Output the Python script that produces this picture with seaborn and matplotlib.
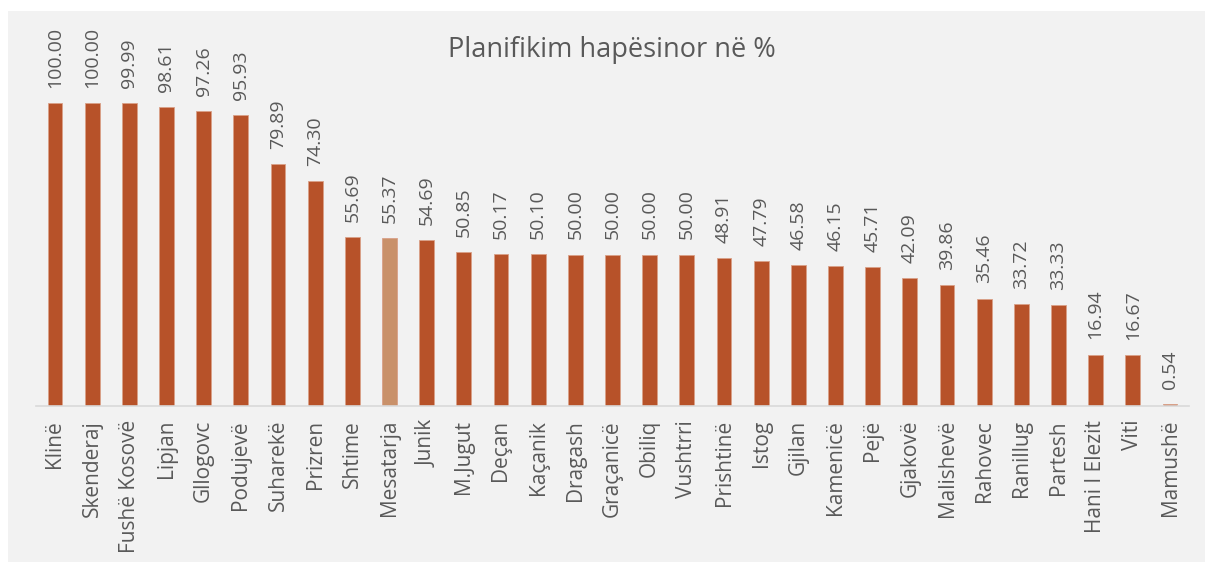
import matplotlib
matplotlib.use("Agg")
import matplotlib.pyplot as plt
import seaborn as sns
import pandas as pd
from matplotlib.patches import Rectangle

# data
komunat = ['Klinë', 'Skenderaj', 'Fushë Kosovë', 'Lipjan', 'Gllogovc', 'Podujevë',
           'Suharekë', 'Prizren', 'Shtime', 'Mesatarja', 'Junik', 'M.Jugut', 'Deçan',
           'Kaçanik', 'Dragash', 'Graçanicë', 'Obiliq', 'Vushtrri', 'Prishtinë', 'Istog',
           'Gjilan', 'Kamenicë', 'Pejë', 'Gjakovë', 'Malishevë', 'Rahovec', 'Ranillug',
           'Partesh', 'Hani I Elezit', 'Viti', 'Mamushë']
perqindja = [100.00, 100.00, 99.99, 98.61, 97.26, 95.93, 79.89, 74.30, 55.69, 55.37,
             54.69, 50.85, 50.17, 50.10, 50.00, 50.00, 50.00, 50.00, 48.91, 47.79,
             46.58, 46.15, 45.71, 42.09, 39.86, 35.46, 33.72, 33.33, 16.94, 16.67, 0.54]
mesatarja = 'Mesatarja'

df = pd.DataFrame({'komuna': komunat, 'vlera': perqindja})
df['grupi'] = ['mes' if k == mesatarja else 'kom' for k in df['komuna']]

sns.set_style('white')
plt.rcParams['font.family'] = ['Open Sans', 'DejaVu Sans']
txt = '#595959'

fig = plt.figure(figsize=(12.05, 5.62), dpi=100, facecolor='white')
# chart area background
bg = Rectangle((8 / 1205, 0), 1 - 8 / 1205, 1 - 11 / 562,
               transform=fig.transFigure, facecolor='#F2F2F2',
               edgecolor='none', zorder=-10)
fig.add_artist(bg)

ax = fig.add_axes([36.4 / 1205, (562 - 406) / 562, 1152.2 / 1205, (406 - 20) / 562])
ax.set_facecolor('none')
ax.set_zorder(1)

sns.barplot(data=df, x='komuna', y='vlera', hue='grupi',
            palette={'kom': '#B75229', 'mes': '#C9916A'}, saturation=1,
            width=0.40, dodge=False, legend=False, ax=ax,
            edgecolor='#D9A088', linewidth=0.6)

ax.set_ylim(0, 100 * (406 - 20) / 303)
ax.set_xlim(-0.5, len(komunat) - 0.5)

for i, v in enumerate(perqindja):
    ax.annotate(f'{v:.2f}', (i, v), xytext=(0, 11), textcoords='offset points',
                rotation=90, ha='center', va='bottom', fontsize=14, color=txt)

ax.set_xlabel('')
ax.set_ylabel('')
ax.set_yticks([])
ax.tick_params(axis='x', length=0, pad=10, labelsize=15, labelcolor=txt)
plt.setp(ax.get_xticklabels(), rotation=90)
for s in ['top', 'right', 'left']:
    ax.spines[s].set_visible(False)
ax.spines['bottom'].set_color('#D9D9D9')
ax.spines['bottom'].set_linewidth(1.2)

fig.text(612 / 1205, 1 - 50 / 562, 'Planifikim hapësinor në %', ha='center',
         va='center', fontsize=19.5, color=txt, zorder=2)

fig.savefig('out.png', dpi=100, facecolor='white')
